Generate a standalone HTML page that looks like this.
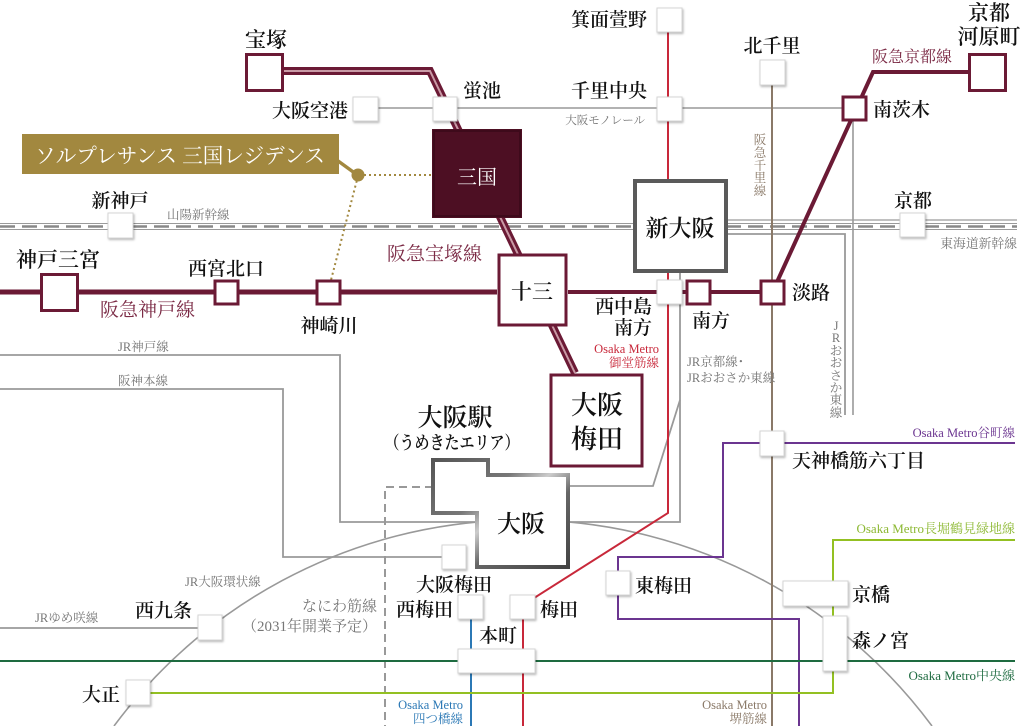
<!DOCTYPE html>
<html><head><meta charset="utf-8"><style>
html,body{margin:0;padding:0;background:#fff;width:1024px;height:726px;overflow:hidden;}
svg{display:block;}
text{font-family:"Liberation Serif","Noto Serif CJK SC","Noto Serif CJK JP",serif;}
.st{font-size:19px;fill:#111;font-weight:600;}
.sm{font-size:12.5px;fill:#777;}
.hk{fill:#7b2a45;}
.gb{fill:#fff;stroke:#d4d4d4;stroke-width:1;filter:url(#sh);}
.mb{fill:#fff;stroke:#6b1a35;stroke-width:3;}
</style></head><body>
<svg width="1024" height="726" viewBox="0 0 1024 726" xmlns="http://www.w3.org/2000/svg">
<defs>
<filter id="sh" x="-30%" y="-30%" width="160%" height="160%"><feDropShadow dx="1" dy="1.5" stdDeviation="1" flood-color="#000" flood-opacity="0.28"/></filter>
<linearGradient id="og" x1="0" y1="0" x2="1" y2="1">
<stop offset="0" stop-color="#555"/><stop offset="0.35" stop-color="#777"/><stop offset="0.5" stop-color="#ccc"/><stop offset="0.65" stop-color="#666"/><stop offset="1" stop-color="#444"/>
</linearGradient>
</defs>
<rect width="1024" height="726" fill="#fff"/>
<g fill="none">
<line x1="0" y1="223.5" x2="1017" y2="223.5" stroke="#9a9a9a" stroke-width="1"/>
<line x1="0" y1="229.5" x2="1017" y2="229.5" stroke="#9a9a9a" stroke-width="1"/>
<line x1="0" y1="226.5" x2="1017" y2="226.5" stroke="#888" stroke-width="2.5" stroke-dasharray="15,7"/>
<line x1="728" y1="220" x2="1017" y2="220" stroke="#9a9a9a" stroke-width="1.3"/>
<polyline points="0,355 340,355 340,522 477,522" stroke="#999" stroke-width="1.8"/>
<polyline points="0,389 283,389 283,557 442,557" stroke="#999" stroke-width="1.8"/>
<line x1="0" y1="628" x2="198" y2="628" stroke="#999" stroke-width="1.8"/>
<path d="M114,726 A509,509 0 0 1 932,726" stroke="#999" stroke-width="1.6"/>
<polyline points="680,273 680,522 568,522" stroke="#999" stroke-width="1.8"/>
<polyline points="680,400 653,486 568,486" stroke="#999" stroke-width="1.8"/>
<polyline points="728,234 845,234 845,415" stroke="#999" stroke-width="1.8"/>
<polyline points="378,108 853,108 853,415" stroke="#999" stroke-width="1.6"/>
<polyline points="433,487 385,487 385,726" stroke="#999" stroke-width="2" stroke-dasharray="8,5"/>
<line x1="772" y1="85" x2="772" y2="726" stroke="#8a7968" stroke-width="2"/>
<polyline points="668,32 668,513 523,605 523,726" stroke="#c8283a" stroke-width="2"/>
<line x1="471" y1="619" x2="471" y2="726" stroke="#2b78b5" stroke-width="2"/>
<polyline points="1015,443 723,443 723,557 618,557 618,619 799,619 799,726" stroke="#6b3590" stroke-width="2"/>
<line x1="0" y1="661" x2="1015" y2="661" stroke="#1e6b40" stroke-width="2"/>
<polyline points="150,693 833,693 833,540 1015,540" stroke="#93c022" stroke-width="2"/>
<line x1="0" y1="292" x2="497" y2="292" stroke="#6b1a35" stroke-width="5"/>
<line x1="568" y1="292" x2="785" y2="292" stroke="#6b1a35" stroke-width="4"/>
<polyline points="777,282 873,72 968,72" stroke="#6b1a35" stroke-width="4"/>
<polyline points="283,71 430,71 575,373" stroke="#6b1a35" stroke-width="8"/>
<polyline points="283,71 430,71 575,373" stroke="#c99aa6" stroke-width="2"/>
<line x1="364" y1="175" x2="432" y2="175" stroke="#a2883f" stroke-width="2" stroke-dasharray="2,3"/>
<line x1="358" y1="176" x2="331" y2="280" stroke="#a2883f" stroke-width="2" stroke-dasharray="2,3"/>
</g>

<rect x="22" y="134" width="317" height="40" fill="#a2883f"/>
<line x1="334" y1="158" x2="356" y2="174" stroke="#a2883f" stroke-width="3.5"/>
<circle cx="358" cy="175" r="6.5" fill="#a2883f"/>
<text x="35" y="163" font-size="21" fill="#fff" textLength="290" lengthAdjust="spacingAndGlyphs">ソルプレサンス 三国レジデンス</text>

<rect class="gb" x="353" y="97" width="25" height="24"/>
<rect class="gb" x="433" y="97" width="24" height="24"/>
<rect class="gb" x="657" y="97" width="25" height="24"/>
<rect class="gb" x="657" y="8" width="25" height="24"/>
<rect class="gb" x="760" y="60" width="25" height="25"/>
<rect class="gb" x="108" y="213" width="25" height="25"/>
<rect class="gb" x="900" y="213" width="25" height="24"/>
<rect class="gb" x="657" y="280" width="25" height="24"/>
<rect class="gb" x="760" y="431" width="24" height="25"/>
<rect class="gb" x="442" y="545" width="24" height="24"/>
<rect class="gb" x="458" y="595" width="25" height="24"/>
<rect class="gb" x="510" y="595" width="25" height="24"/>
<rect class="gb" x="458" y="649" width="77" height="24"/>
<rect class="gb" x="606" y="571" width="24" height="24"/>
<rect class="gb" x="783" y="581" width="65" height="25"/>
<rect class="gb" x="823" y="616" width="24" height="55"/>
<rect class="gb" x="198" y="615" width="24" height="25"/>
<rect class="gb" x="126" y="680" width="24" height="25"/>

<rect class="mb" x="246.5" y="54.5" width="36" height="36"/>
<rect class="mb" x="41.5" y="274.5" width="36" height="36"/>
<rect class="mb" x="215" y="281" width="23" height="23"/>
<rect class="mb" x="317" y="281" width="23" height="23"/>
<rect class="mb" x="687" y="281" width="23" height="23"/>
<rect class="mb" x="761" y="281" width="23" height="23"/>
<rect class="mb" x="843" y="97" width="23" height="23"/>
<rect class="mb" x="969.5" y="54.5" width="36" height="36"/>
<rect class="mb" x="499" y="255" width="67" height="70" stroke-width="4"/>
<rect class="mb" x="551" y="375" width="91" height="91" stroke-width="4"/>
<rect x="432" y="129" width="90" height="89" fill="#4d0f23"/>
<rect x="434" y="131" width="86" height="85" fill="none" stroke="#3e0a1b" stroke-width="2"/>
<rect x="635" y="181" width="91" height="90" fill="#fff" stroke="#5a5a5a" stroke-width="4"/>
<polygon points="433,460 488,460 488,475 568,475 568,567 477,567 477,513 433,513" fill="#fff" stroke="url(#og)" stroke-width="4"/>

<text class="st" x="266" y="47" text-anchor="middle" style="font-size:21px">宝塚</text>
<text class="st" x="348" y="117" text-anchor="end">大阪空港</text>
<text class="st" x="463" y="97">蛍池</text>
<text class="st" x="647" y="97" text-anchor="end">千里中央</text>
<text class="st" x="647" y="26" text-anchor="end">箕面萱野</text>
<text class="st" x="772" y="52" text-anchor="middle">北千里</text>
<text class="st" x="873" y="116">南茨木</text>
<text class="hk" x="872" y="62" style="font-size:16px">阪急京都線</text>
<text class="st" x="989" y="20" text-anchor="middle" style="font-size:21px">京都</text>
<text class="st" x="989" y="44" text-anchor="middle" style="font-size:21px">河原町</text>
<text x="477" y="184" text-anchor="middle" font-size="20" fill="#fff">三国</text>
<text class="st" x="120" y="207" text-anchor="middle">新神戸</text>
<text class="sm" x="167" y="219">山陽新幹線</text>
<text class="st" x="913" y="207" text-anchor="middle">京都</text>
<text class="sm" x="1017" y="248" text-anchor="end" style="font-size:12.8px">東海道新幹線</text>
<text class="sm" x="645" y="124" text-anchor="end" style="font-size:11.5px">大阪モノレール</text>
<text class="sm" x="760" y="144" text-anchor="middle" style="fill:#8a7968">阪</text>
<text class="sm" x="760" y="157" text-anchor="middle" style="fill:#8a7968">急</text>
<text class="sm" x="760" y="170" text-anchor="middle" style="fill:#8a7968">千</text>
<text class="sm" x="760" y="182" text-anchor="middle" style="fill:#8a7968">里</text>
<text class="sm" x="760" y="195" text-anchor="middle" style="fill:#8a7968">線</text>
<text class="st" x="58" y="267" text-anchor="middle" style="font-size:21px">神戸三宮</text>
<text class="st" x="226" y="275" text-anchor="middle">西宮北口</text>
<text class="hk" x="100" y="316" style="font-size:19px">阪急神戸線</text>
<text class="st" x="329" y="332" text-anchor="middle">神崎川</text>
<text class="hk" x="387" y="260" style="font-size:19px">阪急宝塚線</text>
<text class="st" x="532" y="299" text-anchor="middle" style="font-size:21px">十三</text>
<text class="st" x="680" y="236" text-anchor="middle" style="font-size:23px">新大阪</text>
<text class="st" x="652" y="313" text-anchor="end">西中島</text>
<text class="st" x="652" y="334" text-anchor="end">南方</text>
<text class="st" x="711" y="327" text-anchor="middle">南方</text>
<text class="st" x="792" y="299">淡路</text>
<text x="659" y="353" text-anchor="end" font-size="12.5" fill="#c8283a">Osaka Metro</text>
<text x="659" y="367" text-anchor="end" font-size="12.5" fill="#c8283a">御堂筋線</text>
<text class="sm" x="687" y="366">JR京都線･</text>
<text class="sm" x="687" y="382">JRおおさか東線</text>
<text class="sm" x="836" y="330" text-anchor="middle">J</text>
<text class="sm" x="836" y="342" text-anchor="middle">R</text>
<text class="sm" x="836" y="355" text-anchor="middle">お</text>
<text class="sm" x="836" y="367" text-anchor="middle">お</text>
<text class="sm" x="836" y="380" text-anchor="middle">さ</text>
<text class="sm" x="836" y="392" text-anchor="middle">か</text>
<text class="sm" x="836" y="404" text-anchor="middle">東</text>
<text class="sm" x="836" y="417" text-anchor="middle">線</text>
<text class="st" x="597" y="414" text-anchor="middle" style="font-size:26px">大阪</text>
<text class="st" x="597" y="448" text-anchor="middle" style="font-size:26px">梅田</text>
<text class="st" x="455" y="426" text-anchor="middle" style="font-size:25px">大阪駅</text>
<text class="st" x="452" y="449" text-anchor="middle" style="font-size:18px" textLength="135" lengthAdjust="spacingAndGlyphs">（うめきたエリア）</text>
<text class="st" x="521" y="532" text-anchor="middle" style="font-size:24px">大阪</text>
<text x="1015" y="437" text-anchor="end" font-size="12.5" fill="#6b3590">Osaka Metro谷町線</text>
<text class="st" x="792" y="467">天神橋筋六丁目</text>
<text x="1015" y="533" text-anchor="end" font-size="13" fill="#8cb832">Osaka Metro長堀鶴見緑地線</text>
<text class="st" x="852" y="601">京橋</text>
<text class="st" x="852" y="647">森ノ宮</text>
<text x="1015" y="680" text-anchor="end" font-size="13" fill="#1e6b40">Osaka Metro中央線</text>
<text class="st" x="635" y="592">東梅田</text>
<text class="st" x="540" y="616">梅田</text>
<text class="st" x="453" y="616" text-anchor="end">西梅田</text>
<text class="st" x="454" y="591" text-anchor="middle">大阪梅田</text>
<text class="st" x="498" y="642" text-anchor="middle">本町</text>
<text x="377" y="611" text-anchor="end" font-size="15" fill="#777">なにわ筋線</text>
<text x="377" y="631" text-anchor="end" font-size="15" fill="#777">（2031年開業予定）</text>
<text class="sm" x="185" y="586">JR大阪環状線</text>
<text class="st" x="192" y="617" text-anchor="end">西九条</text>
<text class="sm" x="35" y="622">JRゆめ咲線</text>
<text class="st" x="120" y="701" text-anchor="end">大正</text>
<text x="463" y="709" text-anchor="end" font-size="12.5" fill="#2b78b5">Osaka Metro</text>
<text x="463" y="723" text-anchor="end" font-size="12.5" fill="#2b78b5">四つ橋線</text>
<text x="767" y="709" text-anchor="end" font-size="12.5" fill="#8a7968">Osaka Metro</text>
<text x="767" y="723" text-anchor="end" font-size="12.5" fill="#8a7968">堺筋線</text>
<text class="sm" x="118" y="351">JR神戸線</text>
<text class="sm" x="118" y="385">阪神本線</text>
</svg>
</body></html>
